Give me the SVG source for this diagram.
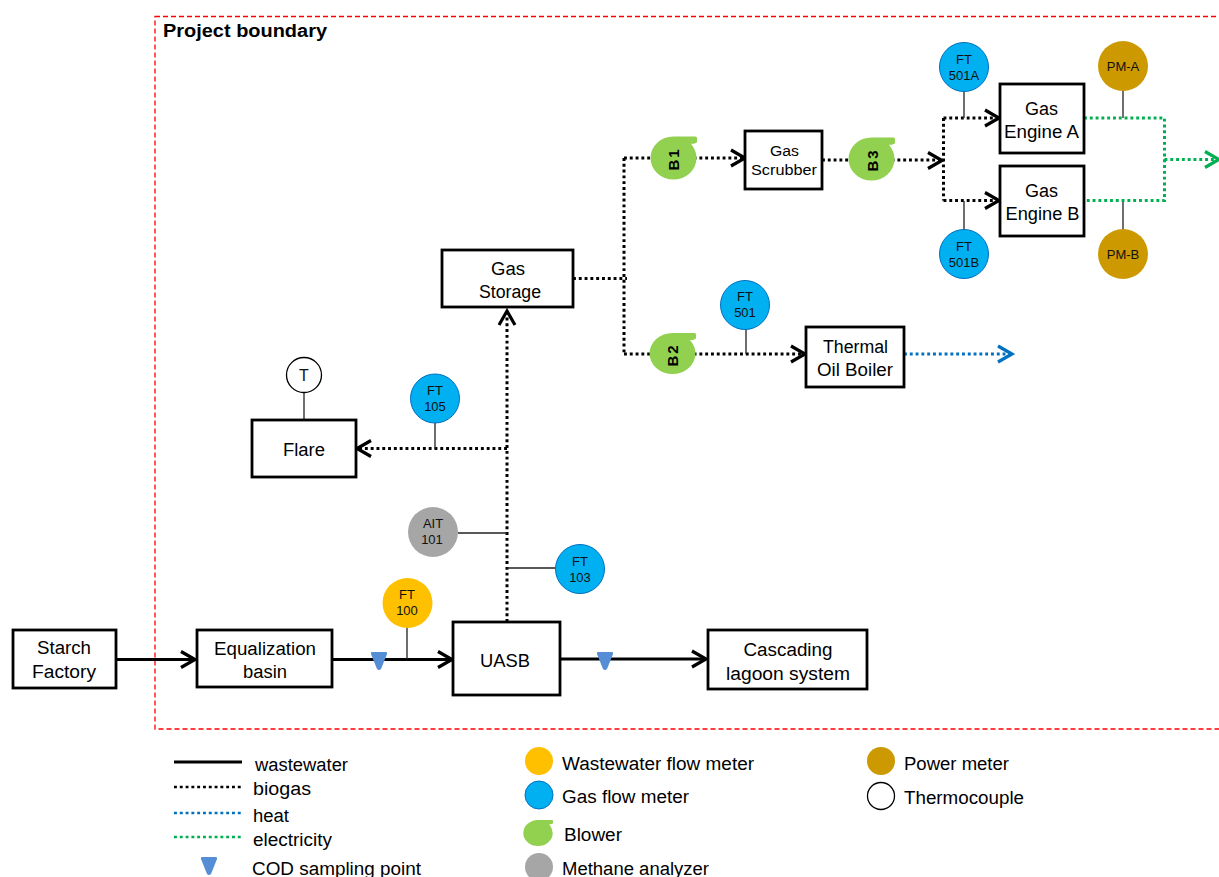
<svg xmlns="http://www.w3.org/2000/svg" width="1219" height="877" viewBox="0 0 1219 877">
<style>
text{font-family:"Liberation Sans",Arial,sans-serif;fill:#000}
.box{fill:#fff;stroke:#000;stroke-width:2.8}
.t{font-size:18px;text-anchor:middle}
.sc{font-size:15.500px;text-anchor:middle}
.s{font-size:13px;text-anchor:middle;fill:#111}
.l{font-size:18px}
.b{font-size:15px;font-weight:bold;text-anchor:middle;letter-spacing:2px}
.ww,.bg,.ht,.el{fill:none;stroke-width:3}
.ww{stroke:#000}
.bg{stroke:#000;stroke-dasharray:2.900 2.900}
.ht{stroke:#0070c0;stroke-dasharray:2.900 2.900}
.el{stroke:#00b050;stroke-dasharray:2.900 2.900}
.lg{stroke-width:2.500}
.tap{fill:none;stroke:#222;stroke-width:1.300}
.gf{fill:#00b0f0;stroke:#0070c0;stroke-width:1}
.wf{fill:#ffc000}
.pm{fill:#cc9900}
.ma{fill:#a6a6a6}
.tc{fill:#fff;stroke:#000;stroke-width:1.300}
.bl{fill:#92d050}
.cod{fill:#558ed5}
.ah{fill:none;stroke-width:3.200}
.k{stroke:#000}
</style>
<defs>
<path id="blower" class="bl" d="M0,-20.500 L22,-20.500 Q23.500,-20.500 23.500,-19 L23.500,-15.500 Q23,-13.500 17.500,-13.500 Q23,-7 23,0 A23,20.500 0 1 1 0,-20.500Z"/>
<path id="codm" class="cod" d="M-7,-8 L7,-8 Q8.500,-8 8,-6 L2,9 Q0,11 -2,9 L-8,-6 Q-8.500,-8 -7,-8Z"/>
<path id="arr" d="M-14,-8 L0,0 L-14,8"/>
</defs>
<rect x="155" y="16.500" width="1080" height="712.500" fill="none" stroke="#ff0000" stroke-width="1.300" stroke-dasharray="5 3"/>
<text x="163" y="37" font-size="18" font-weight="bold" textLength="164" lengthAdjust="spacingAndGlyphs">Project boundary</text>

<g id="connectors">
<path class="ww" d="M116,659.500H194M332,659.500H451M560,659H705"/>
<g class="ah k"><use href="#arr" transform="translate(195,659.500)"/><use href="#arr" transform="translate(452,659.500)"/><use href="#arr" transform="translate(706,659)"/></g>
<path class="bg" d="M507,622V312M507,448.500H359M573,278.500H627M624,158V354M624,158H744M624,354H804M822,160H941M943.500,118V200.500M943.500,118H998M943.500,200.500H998"/>
<g class="ah k"><use href="#arr" transform="rotate(-90 507 311) translate(507,311)"/><use href="#arr" transform="rotate(180 357 448.500) translate(357,448.500)"/><use href="#arr" transform="translate(745,158)"/><use href="#arr" transform="translate(805,354)"/><use href="#arr" transform="translate(942,160.500)"/><use href="#arr" transform="translate(999,118)"/><use href="#arr" transform="translate(999,200.500)"/></g>
<path class="ht" d="M904,354H1010"/>
<use href="#arr" class="ah" stroke="#0070c0" transform="translate(1012,354)"/>
<path class="el" d="M1084,118H1164.500V200.500H1084M1164.500,159.500H1217"/>
<use href="#arr" class="ah" stroke="#00b050" transform="translate(1219,159.500)"/>
<path class="tap" d="M407,627V659M458,533H507M507,568H556M435,422V449M304,392V420M746,329V354M964,91V118M964,201V230M1123,90V118M1123,202V230"/>
</g>

<g id="starch"><rect class="box" x="13" y="630" width="103" height="58"/><text class="t" x="64" y="654" textLength="54" lengthAdjust="spacingAndGlyphs">Starch</text><text class="t" x="64" y="678" textLength="64" lengthAdjust="spacingAndGlyphs">Factory</text></g>
<g id="equalization"><rect class="box" x="197" y="630" width="135" height="57"/><text class="t" x="265" y="655" textLength="102" lengthAdjust="spacingAndGlyphs">Equalization</text><text class="t" x="265" y="678" textLength="44" lengthAdjust="spacingAndGlyphs">basin</text></g>
<g id="uasb"><rect class="box" x="453" y="622" width="107" height="73"/><text class="t" x="505" y="667" textLength="50" lengthAdjust="spacingAndGlyphs">UASB</text></g>
<g id="lagoon"><rect class="box" x="708" y="630" width="159" height="59"/><text class="t" x="788" y="656" textLength="89" lengthAdjust="spacingAndGlyphs">Cascading</text><text class="t" x="788" y="680" textLength="124" lengthAdjust="spacingAndGlyphs">lagoon system</text></g>
<g id="storage"><rect class="box" x="442" y="250" width="131" height="57"/><text class="t" x="508" y="275" textLength="34" lengthAdjust="spacingAndGlyphs">Gas</text><text class="t" x="510" y="298" textLength="62" lengthAdjust="spacingAndGlyphs">Storage</text></g>
<g id="flare"><rect class="box" x="252" y="420" width="104" height="57"/><text class="t" x="304" y="456" textLength="42" lengthAdjust="spacingAndGlyphs">Flare</text></g>
<g id="boiler"><rect class="box" x="806" y="327" width="98" height="60"/><text class="t" x="855.500" y="353" textLength="65" lengthAdjust="spacingAndGlyphs">Thermal</text><text class="t" x="855" y="376" textLength="76" lengthAdjust="spacingAndGlyphs">Oil Boiler</text></g>
<g id="scrubber"><rect class="box" x="745" y="131" width="77" height="58"/><text class="sc" x="784.500" y="156" textLength="29" lengthAdjust="spacingAndGlyphs">Gas</text><text class="sc" x="784" y="175" textLength="66" lengthAdjust="spacingAndGlyphs">Scrubber</text></g>
<g id="engineA"><rect class="box" x="1000" y="84" width="84" height="69"/><text class="t" x="1041.500" y="115" textLength="33" lengthAdjust="spacingAndGlyphs">Gas</text><text class="t" x="1041.500" y="138" textLength="75" lengthAdjust="spacingAndGlyphs">Engine A</text></g>
<g id="engineB"><rect class="box" x="1000" y="166" width="84" height="70"/><text class="t" x="1041.500" y="197" textLength="33" lengthAdjust="spacingAndGlyphs">Gas</text><text class="t" x="1042.500" y="220" textLength="74" lengthAdjust="spacingAndGlyphs">Engine B</text></g>

<g id="b1"><use href="#blower" transform="translate(673.500,158) scale(1,1.050)"/><text class="b" transform="translate(679,159) rotate(-90)">B1</text></g>
<g id="b2"><use href="#blower" transform="translate(672.500,353.500)"/><text class="b" transform="translate(678,355) rotate(-90)">B2</text></g>
<g id="b3"><use href="#blower" transform="translate(871.500,159) scale(1,1.050)"/><text class="b" transform="translate(878,160) rotate(-90)">B3</text></g>

<g id="ft100"><circle class="wf" cx="407.500" cy="603" r="25"/><text class="s" x="407" y="599">FT</text><text class="s" x="407" y="615">100</text></g>
<g id="ait101"><circle class="ma" cx="433" cy="532" r="25"/><text class="s" x="433" y="528">AIT</text><text class="s" x="432" y="544">101</text></g>
<g id="ft103"><circle class="gf" cx="580" cy="569" r="24.500"/><text class="s" x="580" y="566">FT</text><text class="s" x="580" y="582">103</text></g>
<g id="ft105"><circle class="gf" cx="435" cy="398.500" r="24.500"/><text class="s" x="435" y="395">FT</text><text class="s" x="435" y="411">105</text></g>
<g id="ft501"><circle class="gf" cx="745" cy="305" r="24.500"/><text class="s" x="745" y="301">FT</text><text class="s" x="745" y="317">501</text></g>
<g id="ft501a"><circle class="gf" cx="964" cy="67" r="24.500"/><text class="s" x="964" y="64">FT</text><text class="s" x="964" y="80">501A</text></g>
<g id="ft501b"><circle class="gf" cx="964" cy="254" r="24.500"/><text class="s" x="964" y="251">FT</text><text class="s" x="964" y="267">501B</text></g>
<g id="pma"><circle class="pm" cx="1123" cy="66" r="25"/><text class="s" x="1123" y="71">PM-A</text></g>
<g id="pmb"><circle class="pm" cx="1123" cy="254" r="25"/><text class="s" x="1123" y="259">PM-B</text></g>
<g id="tc"><circle class="tc" cx="304" cy="375" r="17.500"/><text class="s" x="304" y="381" style="font-size:16px">T</text></g>
<g id="cod1"><use href="#codm" transform="translate(379,660)"/></g>
<g id="cod2"><use href="#codm" transform="translate(605,660)"/></g>

<g id="legend">
<path class="ww" d="M174,762H242"/><path class="bg lg" d="M174,787H242"/><path class="ht lg" d="M174,813H242"/><path class="el lg" d="M174,837H242"/>
<use href="#codm" transform="translate(209,865)"/>
<text class="l" x="255" y="771" textLength="93" lengthAdjust="spacingAndGlyphs">wastewater</text><text class="l" x="253" y="795" textLength="58" lengthAdjust="spacingAndGlyphs">biogas</text><text class="l" x="253" y="822" textLength="36" lengthAdjust="spacingAndGlyphs">heat</text><text class="l" x="253" y="846" textLength="79" lengthAdjust="spacingAndGlyphs">electricity</text><text class="l" x="252" y="875" textLength="169" lengthAdjust="spacingAndGlyphs">COD sampling point</text>
<circle class="wf" cx="539" cy="761" r="14"/><circle class="gf" cx="539" cy="795" r="14"/><use href="#blower" transform="translate(538,833) scale(.64)"/><circle class="ma" cx="539" cy="867" r="14"/>
<text class="l" x="562" y="770" textLength="192" lengthAdjust="spacingAndGlyphs">Wastewater flow meter</text><text class="l" x="562" y="803" textLength="127" lengthAdjust="spacingAndGlyphs">Gas flow meter</text><text class="l" x="564" y="841" textLength="58" lengthAdjust="spacingAndGlyphs">Blower</text><text class="l" x="562" y="875" textLength="147" lengthAdjust="spacingAndGlyphs">Methane analyzer</text>
<circle class="pm" cx="881" cy="761" r="14"/><circle class="tc" cx="881" cy="796" r="13.500"/>
<text class="l" x="904" y="770" textLength="105" lengthAdjust="spacingAndGlyphs">Power meter</text><text class="l" x="904" y="804" textLength="120" lengthAdjust="spacingAndGlyphs">Thermocouple</text>
</g>
</svg>
